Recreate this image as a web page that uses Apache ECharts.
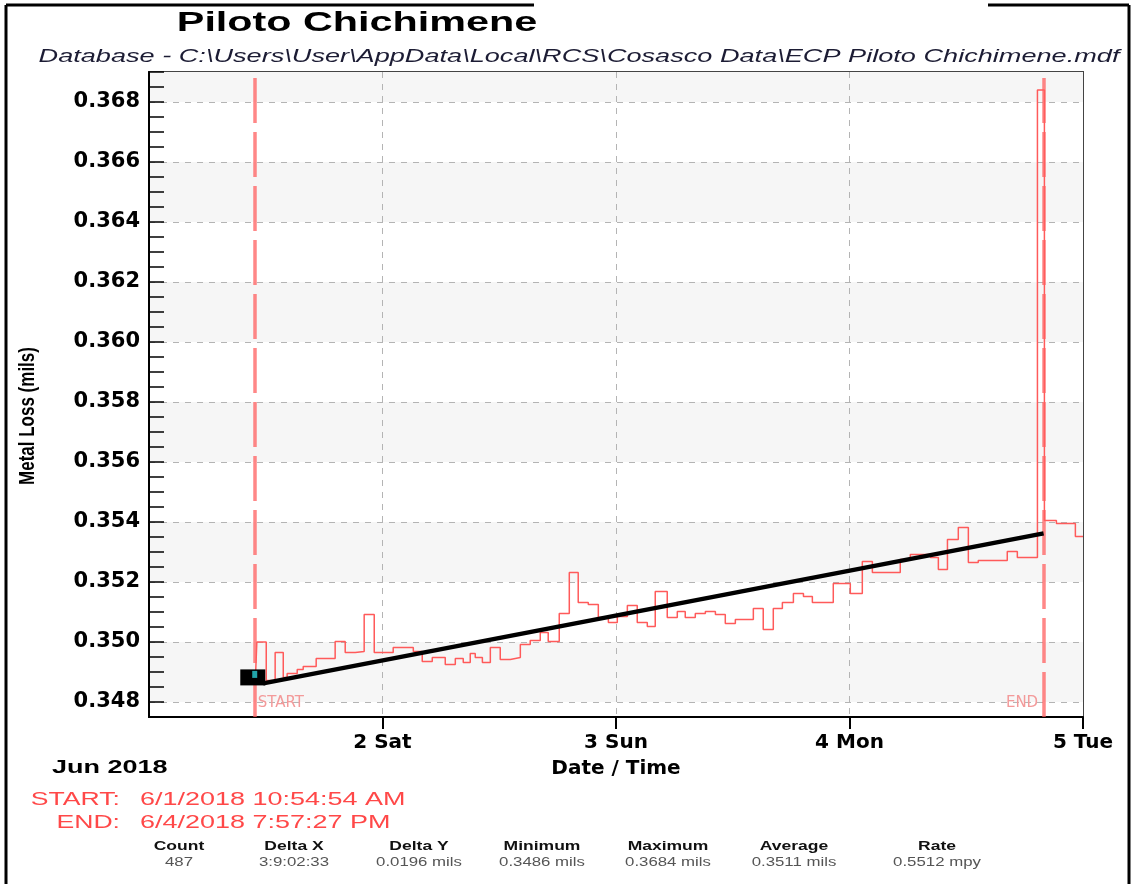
<!DOCTYPE html>
<html>
<head>
<meta charset="utf-8">
<title>Piloto Chichimene</title>
<script src="https://cdn.jsdelivr.net/npm/echarts@6/dist/echarts.min.js"></script>
<style>
html, body { margin: 0; padding: 0; background: #fff; }
#main { width: 1136px; height: 884px; }
</style>
</head>
<body>
<div id="main"></div>
<script>
// metal loss readings, one entry per step change
var stepTimes = [
  '2018-06-01 10:55', '2018-06-01 11:05', '2018-06-01 12:03', '2018-06-01 12:58', '2018-06-01 13:48',
  '2018-06-01 14:12', '2018-06-01 15:14', '2018-06-01 15:51', '2018-06-01 17:11', '2018-06-01 19:08',
  '2018-06-01 20:10', '2018-06-01 21:12', '2018-06-01 22:07', '2018-06-01 23:09', '2018-06-02 01:06',
  '2018-06-02 03:10', '2018-06-02 04:05', '2018-06-02 05:07', '2018-06-02 06:27', '2018-06-02 07:29',
  '2018-06-02 08:18', '2018-06-02 09:01', '2018-06-02 09:32', '2018-06-02 10:16', '2018-06-02 11:05',
  '2018-06-02 12:06', '2018-06-02 13:08', '2018-06-02 14:10', '2018-06-02 15:11', '2018-06-02 16:13',
  '2018-06-02 17:02', '2018-06-02 18:10', '2018-06-02 19:12', '2018-06-02 20:07', '2018-06-02 21:09',
  '2018-06-02 22:11', '2018-06-02 23:13', '2018-06-03 00:08', '2018-06-03 01:10', '2018-06-03 02:11',
  '2018-06-03 03:13', '2018-06-03 04:02', '2018-06-03 05:16', '2018-06-03 06:18', '2018-06-03 07:07',
  '2018-06-03 08:09', '2018-06-03 09:11', '2018-06-03 10:13', '2018-06-03 11:14', '2018-06-03 12:16',
  '2018-06-03 14:07', '2018-06-03 15:08', '2018-06-03 16:10', '2018-06-03 17:06', '2018-06-03 18:14',
  '2018-06-03 19:16', '2018-06-03 20:11', '2018-06-03 22:20', '2018-06-04 00:05', '2018-06-04 01:19',
  '2018-06-04 02:21', '2018-06-04 05:13', '2018-06-04 06:15', '2018-06-04 08:19', '2018-06-04 09:08',
  '2018-06-04 10:04', '2018-06-04 11:11', '2018-06-04 12:13', '2018-06-04 13:14', '2018-06-04 16:13',
  '2018-06-04 17:15', '2018-06-04 19:19', '2018-06-04 20:02', '2018-06-04 21:16', '2018-06-04 23:13',
  '2018-06-05 00:00'
];
var stepValues = [
  0.3486, 0.3500, 0.34872, 0.34965, 0.34882,
  0.34895, 0.34908, 0.34918, 0.34945, 0.35002,
  0.34965, 0.34968, 0.35092, 0.34965, 0.34982,
  0.34968, 0.34935, 0.34948, 0.34925, 0.34945,
  0.34932, 0.34962, 0.34948, 0.34932, 0.34982,
  0.34942, 0.34948, 0.34992, 0.35005, 0.35032,
  0.35002, 0.35095, 0.35232, 0.35132, 0.35125,
  0.35082, 0.35065, 0.35085, 0.35122, 0.35065,
  0.35052, 0.35168, 0.35082, 0.35102, 0.35082,
  0.35095, 0.35102, 0.35092, 0.35062, 0.35075,
  0.35112, 0.35042, 0.35112, 0.35132, 0.35162,
  0.35152, 0.35132, 0.35195, 0.35162, 0.35268,
  0.35232, 0.35275, 0.35292, 0.35282, 0.35242,
  0.35342, 0.35382, 0.35265, 0.35272, 0.35302,
  0.35282, 0.3684, 0.35405, 0.35395, 0.35352,
  0.35352
];

// linear fit between the START and END cursors
var trendTimes = ['2018-06-01 11:44', '2018-06-04 19:57'];
var trendValues = [0.34862, 0.35362];

// start cursor block
var cursorTime = '2018-06-01 10:40';
var cursorValue = 0.34882;
var cursorDotTime = '2018-06-01 10:52';
var cursorDotValue = 0.34892;

var startTime = '2018-06-01 10:54:54';
var endTime = '2018-06-04 19:57:27';
var markerLabelValue = 0.34795;

var statNames = ['Count', 'Delta X', 'Delta Y', 'Minimum', 'Maximum', 'Average', 'Rate'];
var statValues = ['487', '3:9:02:33', '0.0196 mils', '0.3486 mils', '0.3684 mils', '0.3511 mils', '0.5512 mpy'];
var statX = [179, 294, 419, 542, 668, 794, 937];

var dayNames = ['Sun', 'Mon', 'Tue', 'Wed', 'Thu', 'Fri', 'Sat'];

function ms(s) {
  return Date.parse(s.replace(' ', 'T') + 'Z');
}

var DAY = 86400000;
var xMin = ms('2018-06-01 00:00');
var xMax = ms('2018-06-05 00:00');

var stepData = stepTimes.map(function (t, i) { return [ms(t), stepValues[i]]; });
var trendData = trendTimes.map(function (t, i) { return [ms(t), trendValues[i]]; });

var chart = echarts.init(document.getElementById('main'));

var boldBig = { fontFamily: 'DejaVu Sans', fontWeight: 'bold', fontSize: 20, color: '#000' };

// graphic texts (the source picture is stretched sideways, hence scaleX)
var graphics = [
  { type: 'line', shape: { x1: 6, y1: 5, x2: 6, y2: 884 }, style: { stroke: '#000', lineWidth: 3 } },
  { type: 'line', shape: { x1: 6, y1: 5, x2: 534, y2: 5 }, style: { stroke: '#000', lineWidth: 3 } },
  { type: 'line', shape: { x1: 988, y1: 5, x2: 1129, y2: 5 }, style: { stroke: '#000', lineWidth: 3 } },
  { type: 'line', shape: { x1: 1129, y1: 5, x2: 1129, y2: 884 }, style: { stroke: '#000', lineWidth: 3 } },
  {
    type: 'text', x: 357, y: 24, scaleX: 1.53,
    style: { text: 'Piloto Chichimene', font: 'bold 27px "Liberation Sans", Arial', fill: '#000', textAlign: 'center', textVerticalAlign: 'middle' }
  },
  {
    type: 'text', x: 579, y: 57, scaleX: 1.55,
    style: { text: 'Database - C:\\Users\\User\\AppData\\Local\\RCS\\Cosasco Data\\ECP Piloto Chichimene.mdf', font: 'italic 17.5px "Liberation Sans", Arial', fill: '#1c1c34', textAlign: 'center', textVerticalAlign: 'middle' }
  },
  {
    // y axis title, rotated; scaleY widens it on screen like the source
    type: 'text', x: 28, y: 416, rotation: Math.PI / 2, scaleY: 1.3,
    style: { text: 'Metal Loss (mils)', font: 'bold 17px "Liberation Sans", Arial', fill: '#000', textAlign: 'center', textVerticalAlign: 'middle' }
  },
  {
    type: 'text', x: 52, y: 768, scaleX: 1.5,
    style: { text: 'Jun 2018', font: 'bold 18px "Liberation Sans", Arial', fill: '#000', textAlign: 'left', textVerticalAlign: 'middle' }
  },
  {
    type: 'text', x: 120, y: 800, scaleX: 1.4,
    style: { text: 'START:', font: '19px "Liberation Sans", Arial', fill: '#ff4848', textAlign: 'right', textVerticalAlign: 'middle' }
  },
  {
    type: 'text', x: 140, y: 800, scaleX: 1.42,
    style: { text: '6/1/2018 10:54:54 AM', font: '19px "Liberation Sans", Arial', fill: '#ff4848', textAlign: 'left', textVerticalAlign: 'middle' }
  },
  {
    type: 'text', x: 120, y: 823, scaleX: 1.4,
    style: { text: 'END:', font: '19px "Liberation Sans", Arial', fill: '#ff4848', textAlign: 'right', textVerticalAlign: 'middle' }
  },
  {
    type: 'text', x: 140, y: 823, scaleX: 1.42,
    style: { text: '6/4/2018 7:57:27 PM', font: '19px "Liberation Sans", Arial', fill: '#ff4848', textAlign: 'left', textVerticalAlign: 'middle' }
  }
];

statNames.forEach(function (name, i) {
  graphics.push({
    type: 'text', x: statX[i], y: 847, scaleX: 1.4,
    style: { text: name, font: 'bold 12.5px "Liberation Sans", Arial', fill: '#111', textAlign: 'center', textVerticalAlign: 'middle' }
  });
  graphics.push({
    type: 'text', x: statX[i], y: 863, scaleX: 1.4,
    style: { text: statValues[i], font: '12px "Liberation Sans", Arial', fill: '#555', textAlign: 'center', textVerticalAlign: 'middle' }
  });
});

chart.setOption({
  animation: false,
  backgroundColor: '#fff',
  textStyle: { fontFamily: '"Liberation Sans", Arial, sans-serif' },
  graphic: graphics,
  grid: {
    left: 149, right: 53, top: 72, bottom: 167,
    show: true, borderColor: '#444', borderWidth: 2, backgroundColor: 'transparent'
  },
  xAxis: {
    type: 'value',
    min: xMin,
    max: xMax,
    interval: DAY,
    name: 'Date / Time',
    nameLocation: 'middle',
    nameGap: 42,
    nameTextStyle: boldBig,
    axisLine: { lineStyle: { color: '#000', width: 2 } },
    axisTick: { length: 12, lineStyle: { color: '#000', width: 2 } },
    axisLabel: {
      margin: 16,
      showMinLabel: false,
      fontFamily: 'DejaVu Sans', fontWeight: 'bold', fontSize: 20, color: '#000',
      formatter: function (v) {
        if (v === xMin) return '';
        var d = new Date(v);
        return d.getUTCDate() + ' ' + dayNames[d.getUTCDay()];
      }
    },
    splitLine: { show: true, showMinLine: false, showMaxLine: false, lineStyle: { color: '#b4b4b4', type: [6, 6] } }
  },
  yAxis: [
    {
      // ticks every 0.0005
      type: 'value',
      position: 'left',
      min: 0.3475,
      max: 0.369,
      interval: 0.0005,
      axisLine: { show: true, lineStyle: { color: '#000', width: 2 } },
      axisTick: { show: true, inside: true, length: 15, lineStyle: { color: '#000', width: 1.5 } },
      axisLabel: { show: false },
      splitLine: { show: false }
    },
    {
      // labels, grid lines and bands every 0.002
      type: 'value',
      position: 'left',
      min: 0.3475,
      max: 0.369,
      splitNumber: 10,
      minInterval: 0.002,
      maxInterval: 0.002,
      axisLine: { show: false },
      axisTick: { show: false },
      axisLabel: {
        margin: 9,
        showMinLabel: false,
        showMaxLabel: false,
        fontFamily: 'DejaVu Sans', fontWeight: 'bold', fontSize: 21, color: '#000',
        formatter: function (v) { return v.toFixed(3); }
      },
      splitLine: { show: true, showMinLine: false, showMaxLine: false, lineStyle: { color: '#b4b4b4', type: [6, 6] } },
      splitArea: { show: true, areaStyle: { color: ['#ffffff', '#f6f6f6'] } }
    }
  ],
  series: [
    {
      name: 'Metal Loss',
      type: 'line',
      step: 'end',
      data: stepData,
      symbol: 'none',
      lineStyle: { color: '#ff5a5a', width: 1.5 },
      z: 3,
      markLine: {
        silent: true,
        symbol: 'none',
        label: { show: false },
        lineStyle: { color: 'rgba(255, 95, 95, 0.75)', width: 3.5, type: [45, 9] },
        data: [{ xAxis: ms(startTime) }, { xAxis: ms(endTime) }]
      },
      markPoint: {
        silent: true,
        symbol: 'circle',
        symbolSize: 1,
        itemStyle: { color: 'rgba(0,0,0,0)' },
        label: { show: true, fontFamily: 'DejaVu Sans', fontSize: 15, color: '#f39a9a' },
        data: [
          { coord: [ms(startTime), markerLabelValue], label: { formatter: 'START', position: 'right', distance: 2 } },
          { coord: [ms(endTime), markerLabelValue], label: { formatter: 'END', position: 'left', distance: 5 } }
        ]
      }
    },
    {
      name: 'Trend',
      type: 'line',
      data: trendData,
      symbol: 'none',
      lineStyle: { color: '#000', width: 4.5 },
      z: 5
    },
    {
      name: 'Cursor',
      type: 'scatter',
      data: [[ms(cursorTime), cursorValue]],
      symbol: 'rect',
      symbolSize: [25, 16],
      itemStyle: { color: '#000', opacity: 1 },
      z: 6
    },
    {
      name: 'Cursor dot',
      type: 'scatter',
      data: [[ms(cursorDotTime), cursorDotValue]],
      symbol: 'rect',
      symbolSize: [5, 7],
      itemStyle: { color: '#21a3a8', opacity: 1 },
      z: 7
    }
  ]
});
</script>
</body>
</html>
